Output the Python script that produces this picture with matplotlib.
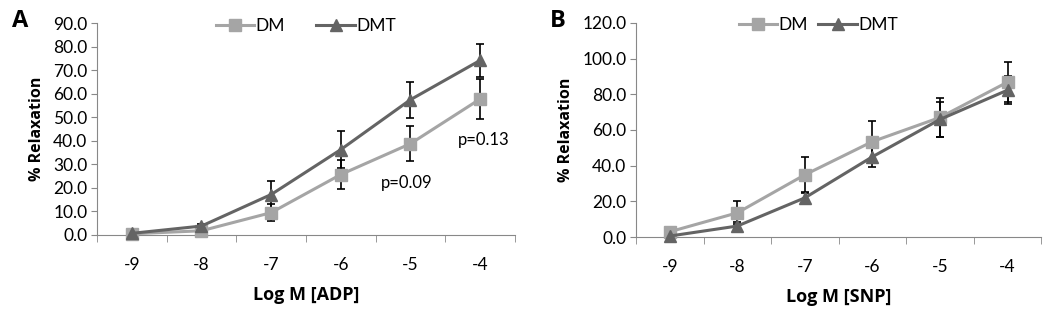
import matplotlib
matplotlib.use("Agg")
import matplotlib.pyplot as plt
from matplotlib.ticker import FixedLocator
from matplotlib.lines import Line2D

plt.rcParams['font.family'] = ['Lato', 'DejaVu Sans']
BOLD = ['Open Sans', 'DejaVu Sans']

log_m = [-9, -8, -7, -6, -5, -4]
x_labels = ["-9", "-8", "-7", "-6", "-5", "-4"]

# Panel A (ADP)
adp_dm = [0.5, 1.8, 9.5, 25.7, 38.8, 57.8]
adp_dm_err = [0.5, 0.8, 3.5, 6.3, 7.4, 8.3]
adp_dmt = [0.7, 3.8, 17.2, 36.3, 57.5, 74.2]
adp_dmt_err = [0.5, 0.8, 5.7, 7.8, 7.7, 7.0]

# Panel B (SNP)
snp_dm = [3.0, 13.6, 34.9, 53.5, 67.0, 86.8]
snp_dm_err = [0.8, 6.5, 10.0, 11.7, 11.0, 11.0]
snp_dmt = [0.6, 6.2, 22.0, 45.0, 65.9, 82.3]
snp_dmt_err = [0.5, 2.0, 3.0, 6.0, 10.0, 7.7]

DM_COLOR = '#a5a5a5'
DMT_COLOR = '#646464'

fig = plt.figure(figsize=(10.5, 3.17), dpi=100)
axA = fig.add_axes([0.0924, 0.2587, 0.398, 0.668])
axB = fig.add_axes([0.6057, 0.252, 0.386, 0.676])


def draw(ax, dm, dm_err, dmt, dmt_err, ymax, ystep, xlabel):
    ax.errorbar(log_m, dm, yerr=dm_err, color=DM_COLOR, ecolor='black',
                elinewidth=1.2, capsize=3, capthick=1.2, marker='s',
                markersize=8, linewidth=2.2, zorder=3)
    ax.errorbar(log_m, dmt, yerr=dmt_err, color=DMT_COLOR, ecolor='black',
                elinewidth=1.2, capsize=3, capthick=1.2, marker='^',
                markersize=8, linewidth=2.2, zorder=3)
    ax.set_xlim(-9.5, -3.5)
    ax.set_ylim(0, ymax)
    yt = [i * ystep for i in range(int(round(ymax / ystep)) + 1)]
    ax.set_yticks(yt)
    ax.set_yticklabels([f"{v:.1f}" for v in yt], fontsize=12.5)
    ax.set_xticks(log_m)
    ax.set_xticklabels(x_labels, fontsize=12.5)
    ax.xaxis.set_minor_locator(FixedLocator([-9.5, -8.5, -7.5, -6.5, -5.5, -4.5, -3.5]))
    ax.tick_params(axis='x', which='major', length=0, pad=16)
    ax.tick_params(axis='x', which='minor', length=5, direction='out', color='#888888')
    ax.tick_params(axis='y', length=4, direction='out', color='#888888', pad=3)
    for s in ['top', 'right']:
        ax.spines[s].set_visible(False)
    for s in ['left', 'bottom']:
        ax.spines[s].set_color('#888888')
    ax.set_ylabel('% Relaxation', fontsize=11.5, fontweight='bold', family=BOLD, labelpad=6)
    ax.set_xlabel(xlabel, fontsize=13, fontweight='bold', family=BOLD, labelpad=9)
    for art in ax.get_children():
        try:
            art.set_clip_on(False)
        except Exception:
            pass


draw(axA, adp_dm, adp_dm_err, adp_dmt, adp_dmt_err, 90, 10, 'Log M [ADP]')
draw(axB, snp_dm, snp_dm_err, snp_dmt, snp_dmt_err, 120, 20, 'Log M [SNP]')

handles = [Line2D([], [], color=DM_COLOR, marker='s', markersize=8, linewidth=2.2),
           Line2D([], [], color=DMT_COLOR, marker='^', markersize=8, linewidth=2.2)]
labels = ['DM', 'DMT']

axA.legend(handles, labels, loc='upper center', bbox_to_anchor=(0.5, 1.1), ncol=2, frameon=False,
           fontsize=12.5, handlelength=2.2, handletextpad=0.1, columnspacing=1.8)
axB.legend(handles, labels, loc='upper center', bbox_to_anchor=(0.45, 1.1), ncol=2, frameon=False,
           fontsize=12.5, handlelength=2.2, handletextpad=0.1, columnspacing=0.6)

axA.text(-5.05, 22, 'p=0.09', fontsize=12, ha='center', va='center')
axA.text(-3.95, 40.3, 'p=0.13', fontsize=12, ha='center', va='center')

fig.text(0.011, 0.935, 'A', fontsize=17, fontweight='bold', family=BOLD, va='center')
fig.text(0.524, 0.935, 'B', fontsize=17, fontweight='bold', family=BOLD, va='center')

fig.savefig('out.png', dpi=100)
